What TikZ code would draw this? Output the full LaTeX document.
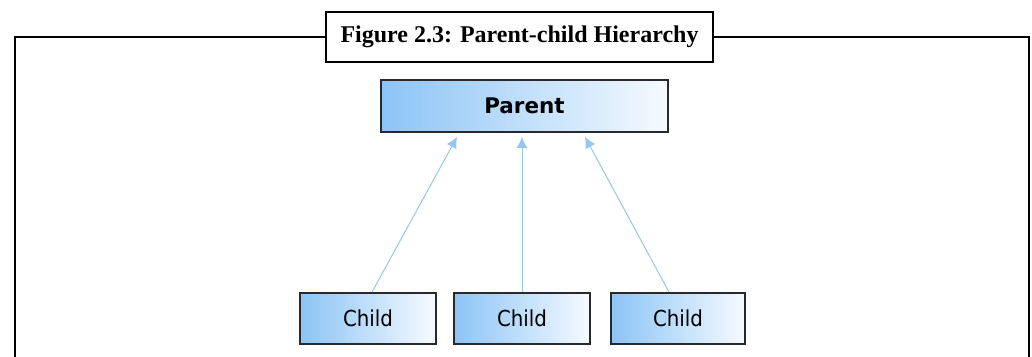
\documentclass[tikz,border=0pt]{standalone}
\usepackage{fontspec}
\setmainfont{Liberation Serif}
\newfontfamily\boxfont{DejaVu Sans}
\newfontfamily\childfont{DejaVu Sans Condensed}
\usetikzlibrary{arrows.meta,calc}
\definecolor{boxblue}{RGB}{140,196,246}
\definecolor{boxwhite}{RGB}{246,250,255}
\definecolor{arrowblue}{RGB}{150,198,238}
\definecolor{boxedge}{RGB}{40,40,45}
\tikzset{
  framebox/.style={draw=black, line width=2.6pt},
  titlebox/.style={draw=black, line width=2.6pt, fill=white, minimum width=387pt, minimum height=50pt, inner sep=0pt, font=\fontsize{24}{28}\selectfont\bfseries},
  bluebox/.style={draw=boxedge, line width=1.8pt, left color=boxblue, right color=boxwhite, inner sep=0pt, minimum height=51pt},
  parentbox/.style={bluebox, minimum width=287pt, minimum height=52pt, font=\boxfont\fontsize{21.5}{24}\selectfont\bfseries},
  childbox/.style={bluebox, minimum width=136pt, font=\childfont\fontsize{22}{26}\selectfont},
  link/.style={draw=arrowblue, line width=1pt, -{Latex[length=11pt,width=11pt]}}
}
\begin{document}
\begin{tikzpicture}[x=1pt,y=-1pt]
\useasboundingbox (0,0) rectangle (1032,356);
\node[titlebox] (title) at (519.5,37) {Figure 2.3: Parent-child Hierarchy};
\coordinate (bl) at (15,360);
\coordinate (br) at (1029,360);
\draw[framebox] (title.west) -- (15,37) -- (bl);
\draw[framebox] (title.east) -- (1029,37) -- (br);
\node[parentbox] (p) at (524.5,106) {Parent};
\node[childbox] (c1) at (368,318.5) {Child};
\node[childbox] (c2) at (522,318.5) {Child};
\node[childbox, minimum width=134pt] (c3) at (678,318.5) {Child};
\draw[link] ($(c1.north)+(4,0)$) -- ($(p.south)+(-67.5,4)$);
\draw[link] (c2.north) -- ($(p.south)+(-2.5,4)$);
\draw[link] ($(c3.north)+(-9,0)$) -- ($(p.south)+(60.5,4)$);
\end{tikzpicture}
\end{document}
